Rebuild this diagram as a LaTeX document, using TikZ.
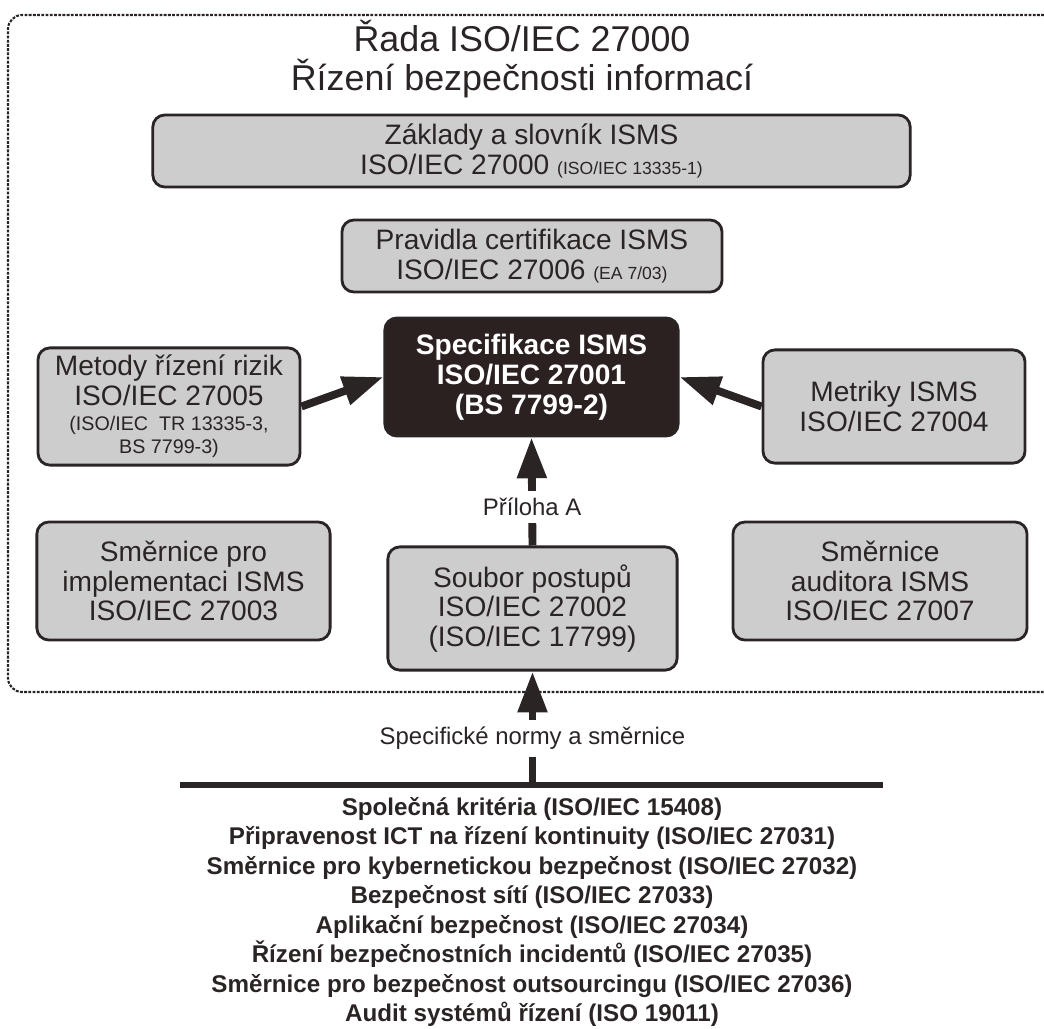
\documentclass[tikz,border=0pt]{standalone}
\usepackage{fontspec}
\setmainfont{Liberation Sans}
\usetikzlibrary{arrows.meta}
\usepackage{xcolor}
\definecolor{boxgray}{RGB}{205, 205, 205}
\definecolor{inkdark}{RGB}{42, 36, 36}
\definecolor{specdark}{RGB}{44, 33, 33}
\newcommand{\isosmall}{\fontsize{12.5}{14}\selectfont}
\newcommand{\isomid}{\fontsize{14}{17}\selectfont}

\begin{document}
\begin{tikzpicture}[x=0.025cm, y=-0.025cm,
  isobox/.style={draw=inkdark, line width=2pt, rounded corners=8.5pt, fill=boxgray, align=center, inner sep=0pt, text=inkdark, font=\fontsize{20}{20.8}\selectfont},
  specbox/.style={isobox, fill=specdark, text=white, font=\bfseries\fontsize{20}{21.3}\selectfont},
  bigarrow/.style={draw=inkdark, line width=5.6pt, -{Triangle[length=29pt, width=20pt]}},
  arrowtext/.style={fill=white, inner xsep=2pt, inner ysep=5pt, text=inkdark, font=\fontsize{17}{20}\selectfont},
  framedash/.style={draw=inkdark, line width=1.5pt, dash pattern=on 2pt off 1pt, rounded corners=10pt}]
\useasboundingbox (0,0) rectangle (1044,1028);
% dashed frame of the series
\draw[framedash] (1044,15) -- (8,15) -- (8,692) -- (1044,692);
\node[align=center, inner sep=0pt, text=inkdark, font=\fontsize{25.5}{28}\selectfont] (rada) at (522,59) {Řada ISO/IEC 27000\\Řízení bezpečnosti informací};
\node[isobox, minimum width=18.93cm, minimum height=1.8cm] (zakl) at (531.5,151) {Základy a slovník ISMS\\ISO/IEC 27000 {\isosmall(ISO/IEC 13335-1)}};
\node[isobox, minimum width=9.5cm, minimum height=1.8cm] (prav) at (532,256) {Pravidla certifikace ISMS\\ISO/IEC 27006 {\isosmall(EA 7/03)}};
\node[specbox, minimum width=7.33cm, minimum height=2.95cm] (spec) at (531.5,377) {Specifikace ISMS\\ISO/IEC 27001\\(BS 7799-2)};
\node[isobox, minimum width=6.55cm, minimum height=2.93cm] (metody) at (169,406.5) {Metody řízení rizik\\ISO/IEC 27005\\[-3pt]{\isomid(ISO/IEC~~TR 13335-3,}\\[-4pt]{\isomid BS 7799-3)}};
\node[isobox, minimum width=6.55cm, minimum height=2.83cm] (metr) at (894,406.5) {Metriky ISMS\\ISO/IEC 27004};
\node[isobox, minimum width=7.33cm, minimum height=2.95cm] (impl) at (183.5,581) {Směrnice pro\\implementaci ISMS\\ISO/IEC 27003};
\node[isobox, minimum width=7.23cm, minimum height=3.08cm] (soub) at (532.5,608.5) {Soubor postupů\\ISO/IEC 27002\\(ISO/IEC 17799)};
\node[isobox, minimum width=7.35cm, minimum height=2.95cm] (audit) at (880,581) {Směrnice\\auditora ISMS\\ISO/IEC 27007};
\draw[bigarrow] (metody.east) -- (spec.west);
\draw[bigarrow] (metr.west) -- (spec.east);
\draw[bigarrow] (soub.north) -- node[arrowtext, pos=0.36] {Příloha A} (spec.south);
% specific standards below the frame
\coordinate (barL) at (180,785);
\coordinate (barR) at (883,785);
\coordinate (barM) at (532.5,785);
\draw[draw=inkdark, line width=4.5pt] (barL) -- (barR);
\draw[bigarrow] (barM) -- node[arrowtext, pos=0.41] {Specifické normy a směrnice} (soub.south);
\node[align=center, inner sep=0pt, text=inkdark, font=\bfseries\fontsize{17.2}{21}\selectfont] (normy) at (532,912) {Společná kritéria (ISO/IEC 15408)\\
Připravenost ICT na řízení kontinuity (ISO/IEC 27031)\\
Směrnice pro kybernetickou bezpečnost (ISO/IEC 27032)\\
Bezpečnost sítí (ISO/IEC 27033)\\
Aplikační bezpečnost (ISO/IEC 27034)\\
Řízení bezpečnostních incidentů (ISO/IEC 27035)\\
Směrnice pro bezpečnost outsourcingu (ISO/IEC 27036)\\
Audit systémů řízení (ISO 19011)};
\end{tikzpicture}
\end{document}
